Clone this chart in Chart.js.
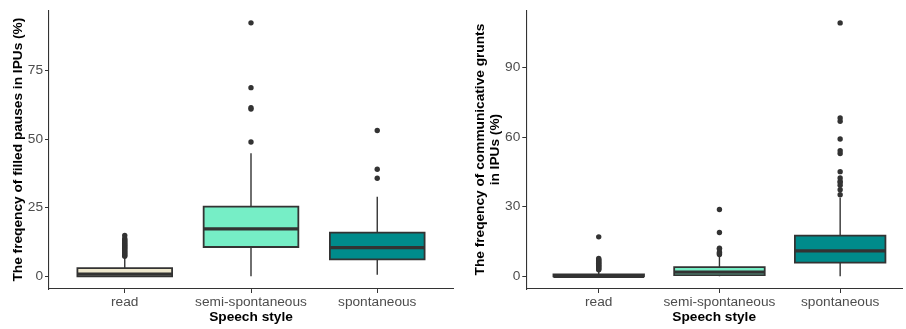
<!DOCTYPE html>
<html><head><meta charset="utf-8">
<script src="https://cdn.jsdelivr.net/npm/chart.js@4.4.1/dist/chart.umd.min.js"></script>
<style>
html,body{margin:0;padding:0;background:#fff;overflow:hidden}
#wrap{position:relative;width:906px;height:329px;overflow:hidden;background:#fff}
#c1{position:absolute;left:0;top:0}
#c2{position:absolute;left:460px;top:0}
</style></head><body>
<div id="wrap"><canvas id="c1" width="460" height="329"></canvas><canvas id="c2" width="446" height="329"></canvas></div>
<script>
const categories = ['read', 'semi-spontaneous', 'spontaneous'];
const boxColors = ['#EEE8CD', '#76EEC6', '#008B8B'];

// Panel 1: filled pauses
const fpLow = [0, 0, 0.6];
const fpQ1 = [0, 10.7, 6.2];
const fpMedian = [0.85, 17.3, 10.5];
const fpQ3 = [3.0, 25.4, 15.9];
const fpHigh = [7.0, 44.8, 29.0];
const fpOutliersRead = [7.3, 7.7, 8.1, 8.5, 8.9, 9.3, 9.7, 10.1, 10.5, 10.9, 11.3, 11.7, 12.1, 12.5, 12.9, 13.3, 13.8, 14.9];
const fpOutliersSemi = [48.9, 60.9, 61.4, 68.7, 92.3];
const fpOutliersSpont = [35.7, 39.0, 53.1];
const fpTicks = [0, 25, 50, 75];

// Panel 2: communicative grunts
const cgLow = [0, 0, 0];
const cgQ1 = [0, 0.5, 5.9];
const cgMedian = [0, 1.8, 11.0];
const cgQ3 = [0.8, 4.0, 17.5];
const cgHigh = [2.3, 8.9, 34.0];
const cgOutliersRead = [2.8, 3.2, 3.6, 4.0, 4.4, 4.8, 5.2, 5.6, 6.0, 6.4, 6.8, 7.2, 7.7, 17.0];
const cgOutliersSemi = [9.4, 9.8, 10.4, 11.8, 12.1, 18.9, 28.8];
const cgOutliersSpont = [35.2, 37.3, 39.2, 40.3, 41.0, 42.4, 45.1, 52.9, 54.1, 59.2, 66.8, 68.2, 109.2];
const cgTicks = [0, 30, 60, 90];

const FONT = "'Liberation Sans', Arial, sans-serif";
const DARK = '#333333';
const BOXW = 0.75;

function buildChart(canvas, p) {
  const boxes = categories.map((c, i) => ({x: i + 1, y: [p.q1[i], p.q3[i]]}));
  const outlines = [];
  const medians = [];
  const whiskers = [];
  const outliers = [];
  categories.forEach((c, i) => {
    const l = i + 1 - BOXW / 2, r = i + 1 + BOXW / 2;
    outlines.push({x: l, y: p.q1[i]}, {x: r, y: p.q1[i]}, {x: r, y: p.q3[i]}, {x: l, y: p.q3[i]}, {x: l, y: p.q1[i]}, {x: r, y: p.q1[i]}, {x: i + 1.5, y: null});
    medians.push({x: l, y: p.med[i]}, {x: r, y: p.med[i]}, {x: i + 1.5, y: null});
    whiskers.push({x: i + 1, y: p.q3[i]}, {x: i + 1, y: p.hi[i]}, {x: i + 1, y: null},
                  {x: i + 1, y: p.q1[i]}, {x: i + 1, y: p.lo[i]}, {x: i + 1, y: null});
    p.out[i].forEach(v => outliers.push({x: i + 1, y: v}));
  });
  return new Chart(canvas, {
    type: 'bar',
    data: {
      datasets: [
        {type: 'line', data: whiskers, borderColor: DARK, borderWidth: 1.4, pointRadius: 0, spanGaps: false, order: 5},
        {type: 'bar', data: boxes, backgroundColor: boxColors, borderWidth: 0,
         categoryPercentage: 1, barPercentage: BOXW, order: 4},
        {type: 'line', data: outlines, borderColor: DARK, borderWidth: 1.8, pointRadius: 0, spanGaps: false, borderJoinStyle: 'miter', order: 3},
        {type: 'line', data: medians, borderColor: DARK, borderWidth: 3.2, pointRadius: 0, spanGaps: false, borderCapStyle: 'butt', order: 2},
        {type: 'scatter', data: outliers, backgroundColor: DARK, borderWidth: 0, pointRadius: 2.7, order: 1}
      ]
    },
    options: {
      responsive: false, animation: false, devicePixelRatio: 1,
      layout: {padding: {top: 6, right: p.padRight, bottom: 0, left: 0}},
      plugins: {legend: {display: false}, tooltip: {enabled: false}},
      scales: {
        x: {
          type: 'linear', min: 0.4, max: p.xMax, offset: false,
          grid: {drawOnChartArea: false, offset: false, tickLength: 4, color: DARK, lineWidth: 1},
          border: {display: true, color: DARK, width: 1.1},
          afterBuildTicks: s => { s.ticks = [1, 2, 3].map(v => ({value: v})); },
          afterFit: s => { s.height = 40; },
          ticks: {color: '#4D4D4D', font: {family: FONT, size: 13.7}, padding: 1, maxRotation: 0, autoSkip: false,
                  callback: v => categories[Math.round(v) - 1]},
          title: {display: true, text: 'Speech style', color: '#000', font: {family: FONT, size: 13.7, weight: 'bold', lineHeight: 1.1},
                  padding: {top: 0, bottom: 4}}
        },
        y: {
          type: 'linear', min: p.yMin, max: p.yMax,
          grid: {drawOnChartArea: false, tickLength: 4, color: DARK, lineWidth: 1},
          border: {display: true, color: DARK, width: 1.1},
          afterBuildTicks: s => { s.ticks = p.ticks.map(v => ({value: v})); },
          afterFit: s => { s.width = p.yWidth; },
          ticks: {color: '#4D4D4D', font: {family: FONT, size: 13.7}, padding: 2},
          title: {display: true, text: p.title, color: '#000', font: {family: FONT, size: 13.7, weight: 'bold', lineHeight: 1.1},
                  padding: {top: p.titlePad, bottom: 0}}
        }
      }
    }
  });
}

buildChart(document.getElementById('c1'), {
  lo: fpLow, q1: fpQ1, med: fpMedian, q3: fpQ3, hi: fpHigh,
  out: [fpOutliersRead, fpOutliersSemi, fpOutliersSpont], ticks: fpTicks,
  yMin: -4.6, yMax: 96.9, xMax: 3.6, padRight: 7, yWidth: 49, titlePad: 10.5,
  title: 'The freqency of filled pauses in IPUs (%)'
});
buildChart(document.getElementById('c2'), {
  lo: cgLow, q1: cgQ1, med: cgMedian, q3: cgQ3, hi: cgHigh,
  out: [cgOutliersRead, cgOutliersSemi, cgOutliersSpont], ticks: cgTicks,
  yMin: -5.46, yMax: 114.66, xMax: 0.4 + (446 - 66.3) / 122, padRight: 0, yWidth: 66.3, titlePad: 12.5,
  title: ['The freqency of communicative grunts', 'in IPUs (%)']
});
</script>
</body></html>
